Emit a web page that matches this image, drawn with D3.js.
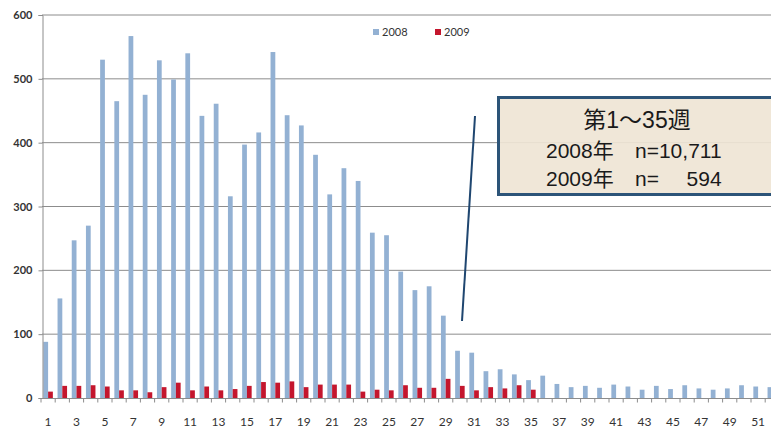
<!DOCTYPE html>
<html lang="ja">
<head>
    <meta charset="UTF-8">
    <title>週別報告数 2008 / 2009</title>
    <script src="https://d3js.org/d3.v7.min.js"></script>
    <style>
        body {
            margin: 0;
            padding: 0;
            background-color: #ffffff;
            overflow: hidden;
        }

        svg {
            display: block;
        }

        .tick-label {
            font-family: Lato, "Open Sans", sans-serif;
            fill: #333;
        }

        .note text {
            font-family: "Liberation Sans", "Noto Sans CJK JP", sans-serif;
            font-size: 21px;
            fill: #1a1a1a;
        }
    </style>
</head>
<body>
    <script>
        // week numbers (categories)
        const weeks = [1, 2, 3, 4, 5, 6, 7, 8, 9, 10, 11, 12, 13, 14, 15, 16, 17, 18, 19, 20,
            21, 22, 23, 24, 25, 26, 27, 28, 29, 30, 31, 32, 33, 34, 35, 36, 37, 38, 39, 40,
            41, 42, 43, 44, 45, 46, 47, 48, 49, 50, 51, 52];

        // reports per week
        const values2008 = [88, 156, 247, 270, 530, 465, 567, 475, 529, 499,
            540, 442, 461, 316, 397, 416, 542, 443, 427, 381,
            319, 360, 340, 259, 255, 198, 169, 175, 129, 74,
            71, 42, 45, 37, 28, 35, 22, 17, 19, 16,
            21, 18, 13, 19, 14, 20, 15, 13, 15, 20,
            18, 17];

        const values2009 = [10, 19, 19, 20, 18, 12, 12, 9, 17, 24,
            12, 18, 12, 14, 19, 25, 24, 26, 17, 21,
            21, 21, 10, 13, 12, 20, 16, 16, 30, 19,
            12, 17, 15, 20, 13];

        const seriesNames = ["2008", "2009"];
        const seriesColors = ["#93b1d3", "#c4162d"];

        const yTicks = [0, 100, 200, 300, 400, 500, 600];
        const xTickLabels = [1, 3, 5, 7, 9, 11, 13, 15, 17, 19, 21, 23, 25, 27, 29, 31,
            33, 35, 37, 39, 41, 43, 45, 47, 49, 51];

        const noteTitle = "第1〜35週";
        const noteRows = [
            { year: "2008年", n: "10,711" },
            { year: "2009年", n: "594" }
        ];

        const width = 771;
        const height = 430;

        const svg = d3.select("body").append("svg")
            .attr("width", width)
            .attr("height", height);

        // the plot runs on past the right edge, as in the scan
        const x0 = d3.scaleBand()
            .domain(weeks)
            .range([41, 41 + weeks.length * 14.2])
            .paddingInner(0.33)
            .paddingOuter(0.165);

        const x1 = d3.scaleBand()
            .domain(seriesNames)
            .range([0, x0.bandwidth()]);

        const y = d3.scaleLinear()
            .domain([0, 600])
            .range([398, 15]);

        // horizontal grid
        svg.append("g")
            .selectAll("line")
            .data(yTicks.filter(d => d > 0))
            .enter().append("line")
            .attr("x1", 42)
            .attr("x2", width)
            .attr("y1", d => y(d))
            .attr("y2", d => y(d))
            .style("stroke", "#8c8c8c")
            .style("stroke-width", 1);

        // bars
        const rows = weeks.map((w, i) => ({
            week: w,
            vals: [
                { key: "2008", v: values2008[i] },
                { key: "2009", v: values2009[i] }
            ].filter(d => d.v != null)
        }));

        const group = svg.append("g")
            .selectAll("g")
            .data(rows)
            .enter().append("g")
            .attr("transform", d => `translate(${x0(d.week)},0)`);

        group.selectAll("rect")
            .data(d => d.vals)
            .enter().append("rect")
            .attr("x", d => x1(d.key))
            .attr("width", x1.bandwidth())
            .attr("y", d => y(d.v))
            .attr("height", d => y(0) - y(d.v))
            .attr("fill", d => seriesColors[seriesNames.indexOf(d.key)]);

        // y axis
        const yAxis = svg.append("g")
            .attr("transform", "translate(42.5,0)")
            .call(d3.axisLeft(y).tickValues(yTicks).tickSize(4).tickPadding(6));

        yAxis.select(".domain").style("stroke", "#8c8c8c");
        yAxis.selectAll(".tick line").style("stroke", "#8c8c8c");
        yAxis.selectAll(".tick text")
            .attr("class", "tick-label")
            .style("font-size", "11px")
            .style("font-weight", "bold");

        // x axis: tick marks sit between weeks, labels on odd weeks
        const xAxis = svg.append("g")
            .attr("transform", "translate(0,398.5)");

        xAxis.append("line")
            .attr("x1", 42)
            .attr("x2", width)
            .style("stroke", "#8c8c8c");

        xAxis.selectAll(".xt")
            .data(weeks)
            .enter().append("line")
            .attr("class", "xt")
            .attr("x1", d => x0(d) - x0.step() * x0.paddingInner() / 2)
            .attr("x2", d => x0(d) - x0.step() * x0.paddingInner() / 2)
            .attr("y1", 0)
            .attr("y2", 4)
            .style("stroke", "#8c8c8c");

        xAxis.selectAll("text")
            .data(xTickLabels)
            .enter().append("text")
            .attr("class", "tick-label")
            .attr("x", d => x0(d) + x0.bandwidth() / 2)
            .attr("y", 27)
            .attr("text-anchor", "middle")
            .style("font-size", "12px")
            .text(d => d);

        // legend
        const legend = svg.append("g")
            .selectAll("g")
            .data(seriesNames)
            .enter().append("g")
            .attr("transform", (d, i) => `translate(${373 + i * 62},28)`);

        legend.append("rect")
            .attr("width", 6)
            .attr("height", 6)
            .attr("y", 1)
            .attr("fill", (d, i) => seriesColors[i]);

        legend.append("text")
            .attr("class", "tick-label")
            .attr("x", 9)
            .attr("y", 8)
            .style("font-size", "11px")
            .text(d => d);

        // pointer line to the note
        svg.append("line")
            .attr("x1", 475)
            .attr("y1", 116)
            .attr("x2", 462)
            .attr("y2", 321)
            .style("stroke", "#1f4670")
            .style("stroke-width", 2);

        // note box
        const note = svg.append("g").attr("class", "note");

        note.append("rect")
            .attr("x", 498.5)
            .attr("y", 97.5)
            .attr("width", 300)
            .attr("height", 97)
            .attr("fill", "#efe5d5")
            .attr("fill-opacity", 0.92)
            .style("stroke", "#2c5478")
            .style("stroke-width", 3);

        note.append("text")
            .attr("x", 637)
            .attr("y", 128)
            .attr("text-anchor", "middle")
            .style("font-size", "23px")
            .text(noteTitle);

        // first row sets the right edge the other counts line up to
        const first = note.append("text")
            .attr("x", 635)
            .attr("y", 158)
            .text("n=" + noteRows[0].n);
        const numRight = 635 + first.node().getComputedTextLength();

        noteRows.forEach((r, i) => {
            const by = 158 + i * 28;
            note.append("text").attr("x", 546).attr("y", by).text(r.year);
            if (i > 0) {
                note.append("text").attr("x", 635).attr("y", by).text("n=");
                note.append("text").attr("x", numRight).attr("y", by)
                    .attr("text-anchor", "end").text(r.n);
            }
        });
    </script>
</body>
</html>
